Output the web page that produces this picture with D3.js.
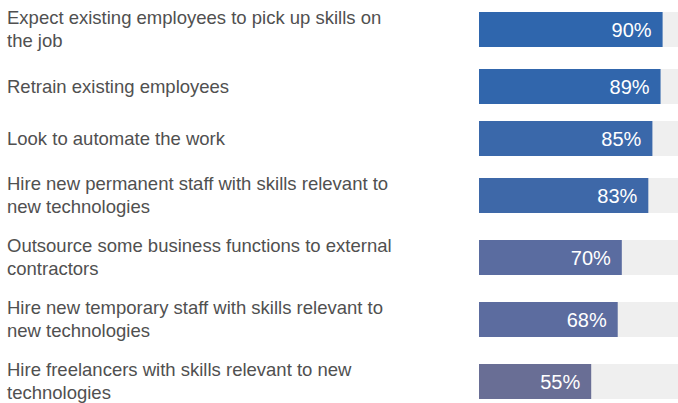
<!DOCTYPE html>
<html>
<head>
<meta charset="utf-8">
<script src="https://cdn.jsdelivr.net/npm/d3@7"></script>
<style>
  body { margin: 0; background: #fff; }
  svg { display: block; overflow: hidden; }
  .label { font-family: "Liberation Sans", Arial, sans-serif; font-size: 18.5px; fill: #505050; }
  .value { font-family: "Liberation Sans", Arial, sans-serif; font-size: 20px; fill: #fff; }
</style>
</head>
<body>
<svg id="chart" width="678" height="403"></svg>
<script>
// survey responses
const categories = [
    'Expect existing employees to pick up skills on the job',
    'Retrain existing employees',
    'Look to automate the work',
    'Hire new permanent staff with skills relevant to new technologies',
    'Outsource some business functions to external contractors',
    'Hire new temporary staff with skills relevant to new technologies',
    'Hire freelancers with skills relevant to new technologies'
];
const values = [90, 89, 85, 83, 70, 68, 55];

const svg = d3.select('#chart');
const margin = { top: -1.5, left: 7, barLeft: 479 };
const wrapWidth = 398;
const lineHeight = 23;
const barHeight = 35;

const xScale = d3.scaleLinear()
    .domain([0, 100])
    .range([margin.barLeft, 683]);

const color = d3.scaleLinear()
    .domain([55, 70, 90])
    .range(['#696e95', '#5a6ca0', '#2f66ad']);

// wrap labels first so row heights can follow the number of lines
const labels = svg.append('g').attr('class', 'labels');
const rows = categories.map((c, i) => {
    const words = c.split(' ');
    const lines = [];
    let line = [];
    const probe = labels.append('text').attr('class', 'label');
    words.forEach(w => {
        line.push(w);
        probe.text(line.join(' '));
        if (probe.node().getComputedTextLength() > wrapWidth && line.length > 1) {
            line.pop();
            lines.push(line.join(' '));
            line = [w];
        }
    });
    lines.push(line.join(' '));
    probe.remove();
    return { name: c, value: values[i], lines: lines, h: 42 + 10 * lines.length };
});

let yPos = margin.top;
rows.forEach(r => {
    r.cy = yPos + r.h / 2;
    yPos += r.h;
});

const row = svg.selectAll('g.row')
    .data(rows)
    .enter().append('g')
    .attr('class', 'row');

row.append('rect')
    .attr('x', xScale(0))
    .attr('y', d => d.cy - barHeight / 2)
    .attr('width', xScale(100) - xScale(0))
    .attr('height', barHeight)
    .attr('fill', '#efefef');

row.append('rect')
    .attr('x', xScale(0))
    .attr('y', d => d.cy - barHeight / 2)
    .attr('width', d => xScale(d.value) - xScale(0))
    .attr('height', barHeight)
    .attr('fill', d => color(d.value));

row.append('text')
    .attr('class', 'value')
    .attr('x', d => xScale(d.value) - 11)
    .attr('y', d => d.cy + 7)
    .attr('text-anchor', 'end')
    .text(d => d.value + '%');

row.append('text')
    .attr('class', 'label')
    .attr('x', margin.left)
    .attr('y', d => d.cy + 6 - (d.lines.length - 1) * 12)
    .selectAll('tspan')
    .data(d => d.lines)
    .enter().append('tspan')
    .attr('x', margin.left)
    .attr('dy', (d, i) => i === 0 ? 0 : lineHeight)
    .text(d => d);
</script>
</body>
</html>
